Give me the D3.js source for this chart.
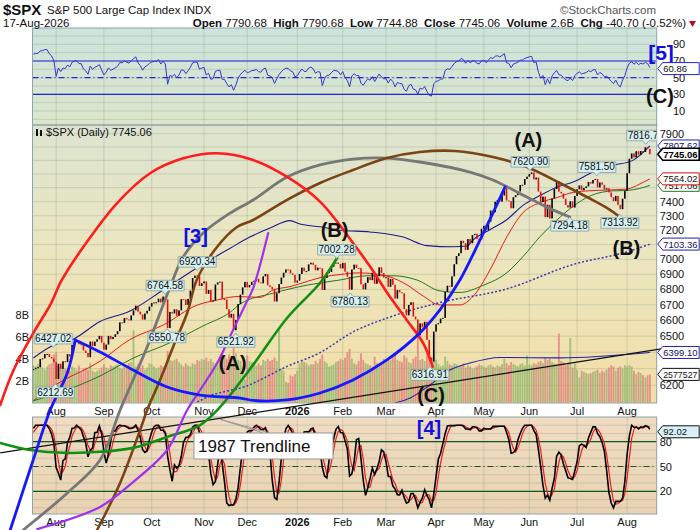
<!DOCTYPE html>
<html>
<head>
<meta charset="utf-8">
<script src="https://d3js.org/d3.v7.min.js"></script>
<style>
  body { margin: 0; background: #fff; }
  text { font-family: "Liberation Sans", Arial, sans-serif; }
</style>
</head>
<body>
<div id="chart"></div>
<script>
// ---- Data ----
const firstDay = "2025-07-18";
const lastDay = "2026-08-17";
const holidays = ["2025-09-01","2025-11-27","2025-12-25","2026-01-01","2026-01-19",
  "2026-02-16","2026-04-03","2026-05-25","2026-06-19","2026-07-03"];

// closes before the first drawn bar, only used to warm up RSI / stochastics
const warmupCloses = [6025,6092,6092,6141,6173,6205,6198,6227,6279,6230,6226,6263,6280,6260,6269,6244,6264,6297];

const closes = [
  6297,6305,6309,6359,6363,6389,6390,6371,6362,6339,
  6238,6330,6299,6345,6340,6389,6374,6446,6466,6469,6450,6449,6411,6396,6370,6467,6439,6466,6481,6502,6460,
  6416,6448,6502,6482,6495,6512,6532,6587,6584,6615,6606,6600,6632,6664,6694,6656,6638,6605,6644,6661,6688,
  6711,6715,6716,6740,6715,6753,6735,6552,6654,6644,6671,6630,6664,6736,6735,6699,6738,6792,6875,6891,6890,6822,6840,
  6852,6771,6796,6720,6728,6832,6846,6851,6737,6734,6672,6617,6642,6538,6603,6705,6766,6813,6849,
  6813,6829,6850,6857,6870,6846,6840,6886,6901,6827,6816,6800,6721,6775,6835,6878,6910,6932,6930,6905,6896,6845,
  6858,6902,6944,6920,6921,6966,6977,6963,6926,6944,6940,6796,6875,6913,6915,6950,6978,6978,6969,6939,
  6976,6917,6883,6798,6932,6964,6942,6941,6833,6800,6843,6881,6861,6909,6837,6890,6946,6908,6878,
  6880,6817,6869,6830,6740,6796,6781,6775,6672,6632,6699,6716,6624,6606,6506,6581,6556,6591,6477,6368,6343,6529,
  6575,6582,6611,6616,6783,6824,6817,6886,6967,7022,7041,7126,7110,7064,7138,7109,7165,7174,7139,7136,7209,
  7230,7201,7259,7337,7325,7399,7412,7400,7444,7501,7408,7403,7353,7432,7446,7473,7519,7521,7563,7580,
  7599,7611,7560,7574,7472,7398,7436,7290,7378,7281,7423,7490,7548,7471,7459,7421,7376,7358,7402,7358,7440,
  7489,7516,7482,7498,7510,7541,7530,7556,7563,7502,7538,7521,7487,7496,7466,7432,7404,7441,7377,7346,7421,7478,
  7605,7712,7752,7722,7768,7741,7770,7762,7798,7785.76,7745.06
];

// volume, billions of shares
const volumes = [
  3.4,3.3,3.5,3.6,3.2,3.0,3.3,3.5,3.6,4.4,
  4.6,3.4,3.3,3.2,3.1,2.8,2.9,3.3,3.2,3.0,3.4,2.8,3.1,3.2,3.0,3.6,2.9,2.8,2.9,3.0,3.2,
  3.5,3.2,3.1,3.4,3.3,3.4,3.5,3.2,3.1,3.3,3.1,3.6,3.7,6.6,3.3,3.5,3.2,3.4,3.0,3.2,3.6,
  3.5,3.3,3.1,3.2,3.4,3.3,3.3,4.7,3.9,3.8,3.9,4.0,3.7,3.5,3.3,3.6,3.4,3.3,3.6,3.5,3.9,3.8,4.0,
  3.9,4.1,3.8,4.0,3.7,3.6,3.5,3.8,4.2,4.3,4.0,4.4,4.0,5.1,4.5,3.9,3.8,3.3,2.1,
  4.3,3.8,3.7,3.5,3.4,3.6,3.4,3.9,3.8,4.0,3.8,3.9,4.1,3.8,6.7,3.1,2.9,1.9,1.8,2.5,2.4,2.6,
  2.9,3.6,3.8,3.7,3.6,3.4,3.5,3.5,3.8,3.6,4.0,4.4,3.8,3.6,3.3,3.4,3.5,3.7,3.8,4.0,
  3.9,4.1,4.6,4.9,4.0,3.6,3.5,3.8,4.5,3.9,3.6,3.5,3.4,3.3,4.2,3.6,3.5,3.7,4.0,
  3.8,4.0,3.9,4.2,4.4,3.9,3.8,3.7,4.3,4.1,3.7,3.6,4.0,4.2,6.6,3.9,4.0,3.8,4.5,4.6,3.9,4.2,
  3.9,3.5,3.3,3.4,4.2,3.8,3.5,3.4,3.6,3.5,3.3,3.4,3.6,3.2,3.4,3.3,3.1,3.2,3.3,3.5,3.4,
  3.3,3.2,3.4,3.5,3.3,3.2,3.4,3.3,3.5,4.0,3.6,3.4,3.7,3.5,3.4,3.3,3.5,3.6,3.4,4.3,
  3.5,3.4,3.6,3.5,3.7,3.8,3.6,4.1,3.9,4.0,3.7,3.6,3.5,6.3,3.8,3.7,3.4,3.6,5.9,3.2,3.6,
  3.0,2.3,2.9,2.8,2.7,2.6,2.7,2.8,2.9,3.0,2.7,2.9,2.8,3.0,3.2,3.4,3.3,2.9,3.2,3.3,3.1,3.4,
  3.3,3.4,3.3,2.9,2.6,2.8,2.7,2.5,2.3,2.5,2.577527
];

// overlay lines: [trading day index, price]
const maBlue = [[0,6365],[8.7,6443],[17.5,6481],[29.3,6593],[42.5,6660],[57,6796],[71.8,6942],[86.5,7075],
  [95.3,7153],[104,7214],[112.8,7266],[117.2,7242],[126,7223],[134.8,7199],[148,7187],[162.5,7152],[173,7093],
  [184.4,7085],[190.6,7090],[193.2,7131],[200.7,7202],[208.2,7274],[215.2,7373],[222.7,7444],[230.1,7504],
  [237.2,7541],[246,7614],[254.7,7663],[263.5,7700],[271,7807.62]];
const maRed = [[0,6110],[10,6205],[29.3,6345],[42.5,6480],[57,6570],[72,6698],[80.8,6731],[89.5,6753],
  [99.6,6748],[105.4,6796],[112.8,6818],[120.3,6852],[127.3,6882],[134.8,6898],[142.3,6909],[149.3,6904],
  [156.8,6882],[164.2,6830],[171.3,6757],[178.7,6699],[187.5,6699],[193.2,6753],[200.7,6928],[208.2,7155],
  [215.2,7321],[222.7,7393],[230.1,7429],[237.2,7466],[244.6,7478],[252.1,7483],[261,7490],[266.6,7527],[271,7564.02]];
const maGreen = [[0,6108],[14.7,6172],[29.3,6256],[44,6365],[60,6459],[74.6,6565],[86.5,6652],[90.9,6705],
  [105.4,6775],[120.3,6828],[134.8,6862],[146.7,6890],[158.1,6890],[168.6,6862],[178.7,6790],[187.5,6780],
  [197.6,6826],[208.2,6911],[215.2,7018],[222.7,7154],[230.1,7270],[237.2,7366],[244.6,7440],[254.7,7477],
  [261,7480],[266.6,7495],[271,7517.06]];
const maDotted = [[72,6100],[76.4,6130],[93.8,6196],[111.4,6313],[126,6398],[140.5,6527],[155.3,6614],
  [169.9,6681],[178.7,6714],[208.2,6804],[237.2,6965],[261,7051],[271,7103.36]];
const maLowBlue = [[158.9,6095],[165.6,6124],[174.3,6202],[183.1,6292],[191.9,6334],[205.1,6368],[231.5,6366],[271,6399.1]];

// drawn annotations
const trendline = [[-14.6,5809],[283,6437]];
const redArc = [[-14.6,6083],[-8.7,6292],[0,6521],[7.4,6699],[12.5,6862],[22,7085],[36.7,7388],[51.3,7605],
  [65.9,7715],[80.6,7753],[96.6,7703],[111.4,7580],[126,7400],[140.5,7111],[148,6951],[156.8,6750],
  [164.1,6603],[171.4,6455],[175.5,6312]];
const grayArc = [[-4.5,5393],[14.9,5589],[29.3,5769],[38.1,6054],[43.8,6232],[50,6433],[55.7,6647],[60.1,6816],
  [65.8,7015],[74.6,7180],[86.5,7319],[96.6,7412],[111.5,7577],[126,7666],[140.5,7710],[155.4,7717],
  [169.9,7688],[191.9,7614],[202,7556],[216.9,7433],[225.7,7361],[235.8,7291]];
const brownArc = [[28,5393],[38.1,5643],[46.9,5938],[50,6054],[55.7,6232],[61.4,6433],[67.6,6647],[72,6870],
  [80.8,7085],[89.5,7221],[96.6,7270],[111.5,7412],[126,7534],[140.5,7629],[155.4,7717],[169.9,7762],
  [185.3,7770],[202,7725],[216.9,7651],[231.4,7534],[243.3,7433],[252.1,7355],[257.8,7291]];
const blueSteep = [[-10.2,5393],[-0.1,5769],[7.4,6054],[14.9,6274],[18.4,6477]];
const blueBowl = [[18.4,6477],[29.3,6402],[43.8,6292],[58.8,6190],[73.3,6142],[90.9,6124],[96.6,6110],
  [111.5,6113],[126,6154],[140.5,6232],[155.4,6353],[169.9,6521],[178.7,6667],[187.5,6862],[196.3,7131],
  [202,7319],[207.3,7505]];
const greenArc = [[-14.6,5865],[-1.4,5825],[14.9,5809],[29.3,5815],[43.8,5837],[58.8,5899],[73.3,5967],
  [82.1,6072],[96.6,6323],[111.5,6615],[126,6842],[133.5,7009]];
const purpleArc = [[1.7,5398],[29.3,5514],[43.8,5648],[58.8,5825],[67.6,6054],[73.3,6172],[80.8,6334],
  [87.8,6540],[93.1,6699],[96.6,6809],[103.2,7179]];

// price callouts: [value, day index, -1 above / 1 below]
const callouts = [[6427.02,8.7,-1],[6212.69,9.6,1],[6764.58,57.9,-1],[6550.78,58.7,1],[6920.34,72,-1],
  [6521.92,89,1],[7002.28,133.3,-1],[6780.13,139.2,1],[6316.91,174.3,1],[7620.90,218.3,-1],
  [7581.50,247.7,-1],[7294.18,235.8,1],[7313.92,257.8,1],[7816.70,269.2,-1]];

// wave labels: [text, day index, price, colour]
const waveLabels = [["[3]",71.3,7111,"#1010e0"],["(B)",132.4,7152,"#111"],["(A)",87.6,6292,"#111"],
  ["(C)",174.8,6103,"#111"],["(A)",217.6,7797,"#111"],["(B)",260.7,7029,"#111"]];

const priceTicks = [6200,6300,6400,6500,6600,6700,6800,6900,7000,7100,7200,7300,7400,7500,7600,7700,7800,7900];
const volTicks = [2,4,6,8];
const rsiTicks = [10,30,50,70,90];
const stochTicks = [20,50,80];

// last values shown in the right-hand tags
const lastBlue = 7807.62, lastClose = 7745.06, lastRed = 7564.02, lastGreen = 7517.06;
const lastDotted = 7103.36, lastLowBlue = 6399.10, lastRsi = 60.86, lastStoch = 92.02, lastVolume = "2577527";

// ---- Build trading days ----
const fmt = d3.utcFormat("%Y-%m-%d");
const days = d3.utcDays(new Date(firstDay), d3.utcDay.offset(new Date(lastDay), 1))
  .filter(d => d.getUTCDay() !== 0 && d.getUTCDay() !== 6 && !holidays.includes(fmt(d)));
const n = Math.min(days.length, closes.length, volumes.length);
const bars = d3.range(n).map(i => ({
  i, date: days[i], close: closes[i], vol: volumes[i],
  open: i ? closes[i - 1] : warmupCloses[warmupCloses.length - 1]
}));

// indicators
const all = warmupCloses.concat(closes.slice(0, n));
const off = warmupCloses.length;
const rsiAll = [];
let ag = 0, al = 0;
for (let k = 1; k < all.length; k++) {
  const ch = all[k] - all[k - 1], g = Math.max(ch, 0), l = Math.max(-ch, 0);
  if (k <= 14) { ag += g / 14; al += l / 14; if (k === 14) rsiAll[k] = 100 - 100 / (1 + ag / al); }
  else { ag = (ag * 13 + g) / 14; al = (al * 13 + l) / 14; rsiAll[k] = 100 - 100 / (1 + ag / al); }
}
const fastK = all.map((c, k) => {
  if (k < 13) return null;
  const w = all.slice(k - 13, k + 1), lo = d3.min(w), hi = d3.max(w);
  return hi > lo ? (c - lo) / (hi - lo) * 100 : 50;
});
const slowK = fastK.map((v, k) => k < 15 ? null : d3.mean(fastK.slice(k - 2, k + 1)));
const slowD = slowK.map((v, k) => k < 17 ? null : d3.mean(slowK.slice(k - 2, k + 1)));

// ---- Layout ----
const W = 700, H = 530;
const P = { left: 32.5, right: 656.7, rsiTop: 28, rsiBot: 125, mainTop: 125, mainBot: 403, stTop: 417, stBot: 514 };

const x = d3.scaleLinear().domain([-0.4, 274]).range([P.left, P.right]);
const y = d3.scaleLog().domain([6095, 7967]).range([P.mainBot, P.mainTop]);
const yVol = d3.scaleLinear().domain([0, 10]).range([402.6, 293.1]);
const yRsi = d3.scaleLinear().domain([0, 100]).range([119.3, 36]);
const ySt = d3.scaleLinear().domain([0, 100]).range([507.8, 425.2]);

const svg = d3.select("#chart").append("svg").attr("width", W).attr("height", H);
const defs = svg.append("defs");
function grad(id, stops) {
  const g = defs.append("linearGradient").attr("id", id).attr("x1", 0).attr("y1", 0).attr("x2", 0).attr("y2", 1);
  stops.forEach(([o, c]) => g.append("stop").attr("offset", o).attr("stop-color", c));
}
grad("gRsi", [[0, "#cce4dc"], [1, "#dce6cc"]]);
grad("gMain", [[0, "#dce4d0"], [0.45, "#ebe6c0"], [1, "#f3dea6"]]);
grad("gSt", [[0, "#efdcc2"], [1, "#e9d3b2"]]);
defs.append("clipPath").attr("id", "clipMain").append("rect")
  .attr("x", P.left).attr("y", P.mainTop).attr("width", P.right - P.left).attr("height", P.mainBot - P.mainTop);

const panelW = P.right - P.left;
svg.append("rect").attr("x", P.left).attr("y", P.rsiTop).attr("width", panelW).attr("height", P.rsiBot - P.rsiTop).attr("fill", "url(#gRsi)");
svg.append("rect").attr("x", P.left).attr("y", P.mainTop).attr("width", panelW).attr("height", P.mainBot - P.mainTop).attr("fill", "url(#gMain)");
svg.append("rect").attr("x", P.left).attr("y", P.stTop).attr("width", panelW).attr("height", P.stBot - P.stTop).attr("fill", "url(#gSt)");

// month starts
const monthStarts = bars.filter(b => b.i > 0 && b.date.getUTCMonth() !== bars[b.i - 1].date.getUTCMonth());
const monthLabel = d => d.getUTCMonth() === 0 ? d3.utcFormat("%Y")(d) : d3.utcFormat("%b")(d);

// grids
const grid = svg.append("g").attr("stroke", "#98a08a").attr("stroke-opacity", 0.35).attr("stroke-width", 1);
monthStarts.forEach(b => {
  [[P.rsiTop, P.rsiBot], [P.mainTop, P.mainBot], [P.stTop, P.stBot]].forEach(([a, c]) =>
    grid.append("line").attr("x1", x(b.i)).attr("x2", x(b.i)).attr("y1", a).attr("y2", c));
});
priceTicks.forEach(v => grid.append("line").attr("x1", P.left).attr("x2", P.right).attr("y1", y(v)).attr("y2", y(v)));
d3.range(0, 101, 10).forEach(v => {
  grid.append("line").attr("x1", P.left).attr("x2", P.right).attr("y1", yRsi(v)).attr("y2", yRsi(v));
  grid.append("line").attr("x1", P.left).attr("x2", P.right).attr("y1", ySt(v)).attr("y2", ySt(v));
});

// ---- RSI panel ----
[[70, null], [50, "6,3,1,3"], [30, null]].forEach(([v, dash]) =>
  svg.append("line").attr("x1", P.left).attr("x2", P.right).attr("y1", yRsi(v)).attr("y2", yRsi(v))
    .attr("stroke", "#2424d8").attr("stroke-width", 1.2).attr("stroke-dasharray", dash));
svg.append("path")
  .datum(bars.filter(b => rsiAll[b.i + off] != null))
  .attr("fill", "none").attr("stroke", "#3535d0").attr("stroke-width", 1)
  .attr("d", d3.line().x(b => x(b.i)).y(b => yRsi(rsiAll[b.i + off])));

// ---- Main panel ----
const main = svg.append("g").attr("clip-path", "url(#clipMain)");
main.append("g").selectAll("rect").data(bars).join("rect")
  .attr("x", b => x(b.i) - 0.95).attr("width", 1.9)
  .attr("y", b => yVol(b.vol)).attr("height", b => yVol(0) - yVol(b.vol))
  .attr("fill", b => b.close >= b.open ? "#8db56c" : "#de7c7c").attr("fill-opacity", 0.75);

const maLine = d3.line().x(d => x(d[0])).y(d => y(d[1])).curve(d3.curveMonotoneX);
[[maGreen, "#1f7a1f", null, 1], [maRed, "#e41b1b", null, 1], [maBlue, "#1c1c8c", null, 1.1],
 [maDotted, "#3a3ab0", "2,2", 1.5], [maLowBlue, "#2020a8", null, 1.1]].forEach(([data, col, dash, w]) =>
  main.append("path").datum(data).attr("fill", "none").attr("stroke", col).attr("stroke-width", w)
    .attr("stroke-dasharray", dash).attr("d", maLine));

const candles = main.append("g");
candles.selectAll("rect").data(bars).join("rect")
  .attr("x", b => x(b.i) - 0.8).attr("width", 1.6)
  .attr("y", b => y(Math.max(b.open, b.close)))
  .attr("height", b => Math.max(1, Math.abs(y(b.open) - y(b.close))))
  .attr("fill", b => b.close >= b.open ? "#000" : "#e01010");

// ---- Stochastic panel ----
[[80, null], [50, "6,3,1,3"], [20, null]].forEach(([v, dash]) =>
  svg.append("line").attr("x1", P.left).attr("x2", P.right).attr("y1", ySt(v)).attr("y2", ySt(v))
    .attr("stroke", "#0d5a1d").attr("stroke-width", 1.2).attr("stroke-dasharray", dash));
svg.append("path").datum(bars.filter(b => slowD[b.i + off] != null))
  .attr("fill", "none").attr("stroke", "#f01a1a").attr("stroke-width", 1.2)
  .attr("d", d3.line().x(b => x(b.i)).y(b => ySt(slowD[b.i + off])));
svg.append("path").datum(bars.filter(b => slowK[b.i + off] != null))
  .attr("fill", "none").attr("stroke", "#000").attr("stroke-width", 1.6)
  .attr("d", d3.line().x(b => x(b.i)).y(b => ySt(slowK[b.i + off])));

// panel borders
[[P.rsiTop, P.rsiBot], [P.mainTop, P.mainBot], [P.stTop, P.stBot]].forEach(([a, c]) =>
  svg.append("rect").attr("x", P.left).attr("y", a).attr("width", panelW).attr("height", c - a)
    .attr("fill", "none").attr("stroke", "#8ea4a8").attr("stroke-width", 1));

// ---- Axes labels ----
const tagYs = [lastBlue, lastClose, lastRed, lastGreen, lastDotted, lastLowBlue].map(v => y(v))
  .concat([yVol(volumes[n - 1])]);
const lab = svg.append("g").attr("font-size", 11).attr("fill", "#111");
monthStarts.forEach(b => {
  [410.5, 521.5].forEach(ty => lab.append("text").attr("x", x(b.i)).attr("y", ty + 4)
    .attr("text-anchor", "middle").attr("font-weight", b.date.getUTCMonth() === 0 ? "bold" : null)
    .text(monthLabel(b.date)));
});
// ticks hidden behind a value tag are left out
priceTicks.filter(v => !tagYs.some(t => Math.abs(t - y(v)) < 7.5))
  .forEach(v => lab.append("text").attr("x", P.right + 3).attr("y", y(v) + 4).text(v));
volTicks.forEach(v => lab.append("text").attr("x", 29).attr("y", yVol(v) + 4).attr("text-anchor", "end").text(v + "B"));
rsiTicks.forEach(v => lab.append("text").attr("x", 673).attr("y", yRsi(v) + 4).text(v));
stochTicks.forEach(v => lab.append("text").attr("x", P.right + 3).attr("y", ySt(v) + 4).text(v));

// ---- Drawn annotations ----
const arcLine = d3.line().x(d => x(d[0])).y(d => y(d[1])).curve(d3.curveCatmullRom.alpha(0.5));
svg.append("path").datum(trendline).attr("fill", "none").attr("stroke", "#111").attr("stroke-width", 1.2)
  .attr("d", d3.line().x(d => x(d[0])).y(d => y(d[1])));
[[grayArc, "#777", 2.8], [brownArc, "#7a4414", 2.6], [greenArc, "#139013", 2.6], [purpleArc, "#a030f0", 2.2],
 [redArc, "#ff1c1c", 2.6], [blueSteep, "#1818ff", 2.8], [blueBowl, "#1818ff", 2.8]].forEach(([data, col, w]) =>
  svg.append("path").datum(data).attr("fill", "none").attr("stroke", col).attr("stroke-width", w)
    .attr("stroke-linecap", "round").attr("d", arcLine));

// callouts on the price panel
const co = svg.append("g").attr("clip-path", "url(#clipMain)");
callouts.forEach(([v, d, side]) => {
  const px = x(d), py = y(v), w = 38, h = 10.5;
  const by = side < 0 ? py - 4 - h : py + 4;
  const path = side < 0
    ? `M${px - w / 2},${by}h${w}v${h}H${px + 3}l-3,3.5l-3,-3.5H${px - w / 2}Z`
    : `M${px - w / 2},${by}H${px - 3}l3,-3.5l3,3.5H${px + w / 2}v${h}H${px - w / 2}Z`;
  co.append("path").attr("d", path).attr("fill", "#d6eff0").attr("stroke", "#7f9ea0").attr("stroke-width", 0.8);
  co.append("text").attr("x", px).attr("y", by + h - 2).attr("text-anchor", "middle")
    .attr("font-size", 10).attr("fill", "#111").text(v.toFixed(2));
});

// wave labels
waveLabels.forEach(([t, d, v, col]) => svg.append("text").attr("x", x(d)).attr("y", y(v))
  .attr("text-anchor", "middle").attr("font-size", 20).attr("font-weight", "bold").attr("fill", col).text(t));
svg.append("text").attr("x", 429).attr("y", ySt(88)).attr("text-anchor", "middle").attr("font-size", 20)
  .attr("font-weight", "bold").attr("fill", "#1010e0").text("[4]");
svg.append("text").attr("x", 661).attr("y", yRsi(71)).attr("text-anchor", "middle").attr("font-size", 21)
  .attr("font-weight", "bold").attr("fill", "#1010e0").text("[5]");
svg.append("text").attr("x", 660).attr("y", yRsi(19.5)).attr("text-anchor", "middle").attr("font-size", 20)
  .attr("font-weight", "bold").attr("fill", "#111").text("(C)");

// 1987 trendline callout
const tl = svg.append("g");
tl.append("line").attr("x1", 263).attr("y1", 433).attr("x2", x(82)).attr("y2", y(6000)).attr("stroke", "#999").attr("stroke-width", 1);
tl.append("line").attr("x1", 270).attr("y1", 433).attr("x2", x(82)).attr("y2", y(6000)).attr("stroke", "#999").attr("stroke-width", 1);
tl.append("rect").attr("x", 194).attr("y", 433).attr("width", 139).attr("height", 26)
  .attr("fill", "#fff").attr("stroke", "#999");
tl.append("text").attr("x", 198).attr("y", 452).attr("font-size", 17).attr("fill", "#111").text("1987 Trendline");

// right-side value tags
function tag(yy, text, stroke, fill, color, bold) {
  const g = svg.append("g");
  const fs = text.length > 7 || !text.includes(".") ? 8.8 : 9.5;
  g.append("path").attr("d", `M${P.right + 1},${yy}l5,-6h36.5v12h-36.5Z`)
    .attr("fill", fill).attr("stroke", stroke).attr("stroke-width", bold ? 1.6 : 1);
  g.append("text").attr("x", P.right + 6.5).attr("y", yy + 3.5).attr("font-size", fs)
    .attr("font-weight", bold ? "bold" : null).attr("fill", color).text(text);
}
tag(y(lastDotted), lastDotted.toFixed(2), "#2222aa", "#fff", "#101060");
tag(y(lastLowBlue), lastLowBlue.toFixed(2), "#2222aa", "#fff", "#101060");
tag(yVol(volumes[n - 1]), lastVolume, "#111", "#fff", "#111");
tag(y(lastGreen), lastGreen.toFixed(2), "#1f7a1f", "#fff", "#111");
tag(y(lastRed), lastRed.toFixed(2), "#d01010", "#fff", "#111");
tag(y(lastBlue), lastBlue.toFixed(2), "#2222aa", "#fff", "#101060");
tag(y(lastClose), lastClose.toFixed(2), "#000", "#fff", "#000", true);
tag(yRsi(lastRsi), lastRsi.toFixed(2), "#2222cc", "#fff", "#111");
tag(ySt(lastStoch), lastStoch.toFixed(2), "#111", "#d8f0f8", "#111");

// panel title
svg.append("rect").attr("x", 36).attr("y", 129).attr("width", 2).attr("height", 7).attr("fill", "#111");
svg.append("rect").attr("x", 40).attr("y", 130).attr("width", 2).attr("height", 6).attr("fill", "#111");
svg.append("text").attr("x", 46).attr("y", 136).attr("font-size", 11).attr("fill", "#111").text("$SPX (Daily) 7745.06");

// ---- Header ----
const hd = svg.append("g").attr("fill", "#111");
hd.append("text").attr("x", 3).attr("y", 15).attr("font-size", 15).attr("font-weight", "bold").text("$SPX");
hd.append("text").attr("x", 47).attr("y", 14).attr("font-size", 11.5).text("S&P 500 Large Cap Index  INDX");
hd.append("text").attr("x", 656).attr("y", 14).attr("text-anchor", "end").attr("font-size", 11.5)
  .attr("fill", "#555").text("©StockCharts.com");
hd.append("text").attr("x", 3).attr("y", 27).attr("font-size", 11.5).text("17-Aug-2026");
const info = hd.append("text").attr("x", 686).attr("y", 27).attr("text-anchor", "end").attr("font-size", 11.5);
[["Open", " 7790.68  "], ["High", " 7790.68  "], ["Low", " 7744.88  "], ["Close", " 7745.06  "],
 ["Volume", " 2.6B  "], ["Chg", " -40.70 (-0.52%)"]].forEach(([k, v]) => {
  info.append("tspan").attr("font-weight", "bold").text(k);
  info.append("tspan").attr("xml:space", "preserve").text(v);
});
hd.append("path").attr("d", "M689,21h7l-3.5,6Z").attr("fill", "#b0102a");
</script>
</body>
</html>
